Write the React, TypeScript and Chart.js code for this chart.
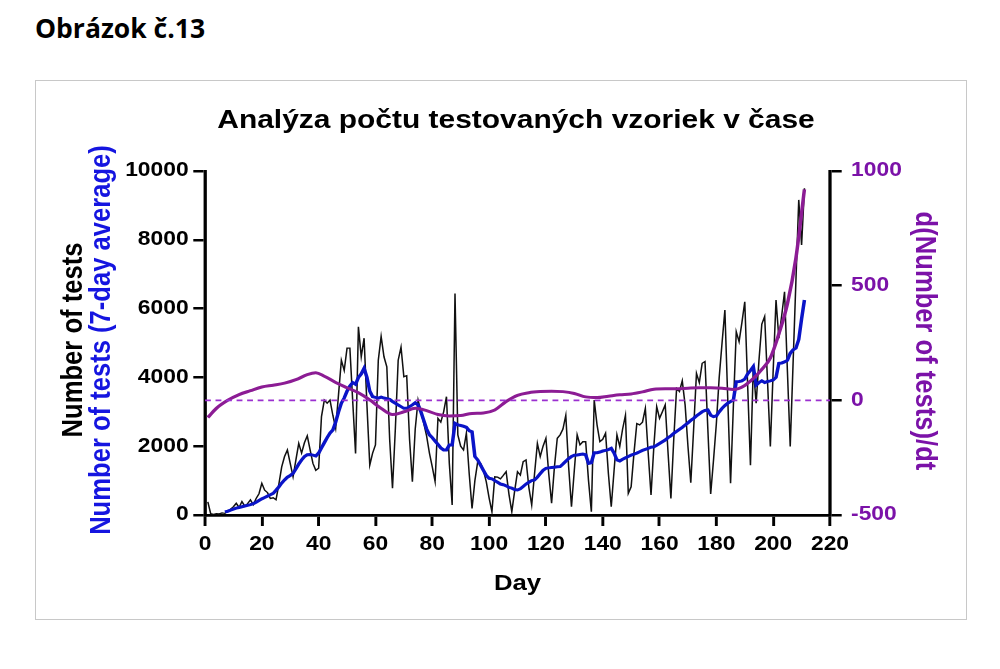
import React, { useEffect, useRef } from "react";
import { Chart, registerables } from "chart.js";
Chart.register(...registerables);

// Horizontal stretch of the original picture
const SX = 1.17;

// ---- data ----
const DAILY_FIRST_DAY = 1;
const dailyTests = [
  380, 40, 20, 40, 30, 60, 50, 100, 170, 240,
  340, 220, 390, 260, 330, 440, 300, 480, 620, 920,
  720, 650, 480, 500, 440, 900, 1400, 1700, 1890, 1500,
  1110, 1600, 2080, 1800, 2100, 2300, 1890, 1500, 1300, 1360,
  2860, 3340, 3250, 3340, 2900, 2520, 3500, 4500, 4200, 4850,
  4850, 3300, 1790, 5470, 4600, 5140, 3200, 1450, 1800, 2040,
  4500, 5190, 4600, 4310, 2200, 780, 2500, 4500, 4880, 4020,
  4050, 2200, 970, 2500, 3340, 3000, 2670, 2300, 1800, 1400,
  970, 2810, 2700, 3000, 3440, 1500, 290, 6440, 2330, 2000,
  1890, 2380, 1200, 190, 1000, 1550, 1500, 1300, 970, 500,
  96, 1110, 1100, 1050, 1150, 1260, 600, 96, 700, 1260,
  1160, 1550, 1600, 800, 290, 1200, 2080, 1700, 2000, 2230,
  1200, 340, 1400, 2230, 2330, 2500, 2900, 1400, 240, 1300,
  2330, 2040, 2130, 2130, 1000, 96, 3340, 2620, 2130, 2200,
  2380, 1200, 240, 1300, 2330, 1990, 2500, 2900, 630, 820,
  1800, 2660, 2620, 2700, 3100, 1800, 580, 2000, 3150, 2810,
  3000, 3200, 1800, 480, 2200, 3680, 3590, 3900, 3200, 2000,
  940, 2500, 4120, 3850, 4410, 4460, 2500, 610, 1600, 2660,
  4000, 5000, 5960, 3400, 920, 3200, 5330, 5040, 5600, 6200,
  3800, 1450, 4310, 3250, 4500, 5550, 5770, 3900, 1990, 4200,
  6250, 5140, 5800, 6490, 4200, 1990, 4400, 6800, 9160, 7850,
  9500,
];

const AVG_FIRST_DAY = 7;
const avgTests = [
  90, 110, 140, 170, 200, 220, 240, 260, 280, 300,
  330, 370, 420, 470, 510, 550, 590, 630, 720, 820,
  930, 1020, 1100, 1150, 1210, 1340, 1480, 1600, 1700, 1750,
  1760, 1740, 1715, 1800, 1950, 2100, 2250, 2380, 2470, 2700,
  3000, 3250, 3400, 3600, 3750, 3850, 3800, 4000, 4100, 4265,
  4000, 3600, 3440, 3420, 3400, 3430, 3400, 3380, 3360, 3300,
  3250, 3200, 3150, 3100, 3100, 3150, 3200, 3265, 3200, 3000,
  2750, 2500, 2330, 2250, 2150, 2050, 1950, 1890, 1890, 2035,
  2035, 2666, 2620, 2600, 2580, 2550, 2450, 2420, 1700, 1600,
  1450, 1300, 1150, 1066, 1050, 1000, 950, 900, 880, 850,
  800, 780, 740, 727, 760, 830, 900, 950, 1000, 1017,
  1100, 1200, 1300, 1357, 1370, 1380, 1390, 1400, 1405, 1480,
  1560, 1640, 1700, 1740, 1744, 1760, 1770, 1750, 1500, 1520,
  1810, 1812, 1830, 1860, 1880, 1900, 1937, 1800, 1600, 1570,
  1620, 1660, 1700, 1740, 1770, 1800, 1840, 1880, 1910, 1940,
  1970, 1985, 2030, 2080, 2130, 2180, 2250, 2300, 2370, 2430,
  2490, 2550, 2616, 2680, 2750, 2810, 2880, 2940, 3000, 3040,
  3052, 2900, 2860, 2880, 3000, 3100, 3180, 3250, 3300, 3343,
  3875, 3880, 3900, 3950, 4100, 4200, 4312, 3780, 3850, 3900,
  3850, 3880, 3900, 3924, 4000, 4410, 4420, 4450, 4500, 4700,
  4800, 4850, 5100, 5700, 6250,
];

const derivDays = [
  1, 4, 8, 12, 16, 20, 24, 28, 32, 36, 39, 42, 46, 50, 54, 58, 62, 66, 70, 74,
  78, 82, 86, 90, 94, 98, 102, 106, 110, 114, 118, 122, 126, 130, 134, 138, 142,
  146, 150, 154, 158, 162, 166, 170, 174, 178, 182, 186, 190, 193, 196, 199, 202,
  205, 208, 211,
];
const derivValues = [
  -75, -35, 0, 25, 42, 58, 66, 75, 90, 112, 120, 105, 78, 55, 33, 2, -35, -62, -50, -35,
  -45, -62, -68, -66, -57, -55, -42, -5, 22, 33, 38, 40, 38, 30, 15, 12, 18,
  24, 28, 37, 48, 50, 50, 53, 55, 55, 53, 47, 65, 95, 135, 185, 290,
  420, 620, 920,
];

const zeroLineDays = [0, 220];
const zeroLineValues = [0, 0];

const X_MIN = 0, X_MAX = 220, X_STEP = 20;
const Y_MIN = 0, Y_MAX = 10000, Y_STEP = 2000;
const Y1_MIN = -500, Y1_MAX = 1000, Y1_STEP = 500;

const chartTitle = "Analýza počtu testovaných vzoriek v čase";
const yTitleBlack = "Number of tests";
const yTitleBlue = "Number of tests (7-day average)";
const y1Title = "d(Number of tests)/dt";
const xTitle = "Day";
const heading = "Obrázok č.13";

// ---- styles ----
const FONT = '"Liberation Sans", Arial, sans-serif';
const PURPLE_LINE = "#8C1C94";
const PURPLE_TEXT = "#7B12A8";
const PURPLE_DASH = "#9B30D0";
const BLUE = "#0A14C8";
const BLUE_TEXT = "#1515E0";

const W = 1000, H = 669;
const LOGICAL_W = W / SX;
const AREA_LEFT = 205 / SX;
const AREA_RIGHT = 830 / SX;
const AREA_TOP = 171;
const AREA_BOTTOM = 515;

const plainNumber = (v: any) => String(v);

const stretchPlugin = {
  id: "stretchAndTexts",
  beforeDraw(chart: any) {
    const c = chart.ctx;
    c.save();
    c.scale(SX, 1);
  },
  afterDraw(chart: any) {
    const c = chart.ctx;
    c.save();
    c.fillStyle = "#000";
    c.font = `bold 25.6px ${FONT}`;
    c.textAlign = "center";
    c.textBaseline = "alphabetic";
    c.fillText(chartTitle, 516 / SX, 127.5);
    c.font = `bold 22px ${FONT}`;
    c.fillText(xTitle, 517.5 / SX, 590);
    c.restore();

    c.save();
    c.font = `bold 25.6px ${FONT}`;
    c.textAlign = "center";
    c.textBaseline = "alphabetic";
    c.translate(81.5 / SX, 340);
    c.rotate(-Math.PI / 2);
    c.fillStyle = "#000";
    c.fillText(yTitleBlack, 0, 0);
    c.restore();

    c.save();
    c.font = `bold 25.6px ${FONT}`;
    c.textAlign = "center";
    c.textBaseline = "alphabetic";
    c.translate(110 / SX, 340);
    c.rotate(-Math.PI / 2);
    c.fillStyle = BLUE_TEXT;
    c.fillText(yTitleBlue, 0, 0);
    c.restore();

    c.save();
    c.font = `bold 25.6px ${FONT}`;
    c.textAlign = "center";
    c.textBaseline = "alphabetic";
    c.translate(916 / SX, 341);
    c.rotate(Math.PI / 2);
    c.fillStyle = PURPLE_TEXT;
    c.fillText(y1Title, 0, 0);
    c.restore();

    c.restore();
  },
};

function App() {
  const ref = useRef<HTMLCanvasElement>(null);

  useEffect(() => {
    if (!ref.current) return;
    const daily = dailyTests.map((v, i) => ({ x: DAILY_FIRST_DAY + i, y: v }));
    const avg = avgTests.map((v, i) => ({ x: AVG_FIRST_DAY + i, y: v }));
    const deriv = derivDays.map((d, i) => ({ x: d, y: derivValues[i] }));
    const zero = zeroLineDays.map((d, i) => ({ x: d, y: zeroLineValues[i] }));

    const tickFont = { family: FONT, size: 19.5, weight: "bold" as const };

    const chart = new Chart(ref.current, {
      type: "line",
      data: {
        datasets: [
          {
            data: zero,
            yAxisID: "y1",
            borderColor: PURPLE_DASH,
            borderWidth: 1.6,
            borderDash: [5, 4],
            pointRadius: 0,
            order: 0,
          },
          {
            data: deriv,
            yAxisID: "y1",
            borderColor: PURPLE_LINE,
            borderWidth: 3,
            pointRadius: 0,
            cubicInterpolationMode: "monotone",
            order: 1,
          },
          {
            data: avg,
            yAxisID: "y",
            borderColor: BLUE,
            borderWidth: 3,
            pointRadius: 0,
            tension: 0,
            order: 2,
          },
          {
            data: daily,
            yAxisID: "y",
            borderColor: "#111",
            borderWidth: 1.3,
            pointRadius: 0,
            tension: 0,
            order: 3,
          },
        ],
      },
      options: {
        animation: false,
        responsive: false,
        devicePixelRatio: 1,
        events: [],
        layout: {
          padding: { left: 0, top: AREA_TOP, right: W - LOGICAL_W, bottom: 0 },
        },
        plugins: {
          legend: { display: false },
          tooltip: { enabled: false },
          title: { display: false },
        },
        scales: {
          x: {
            type: "linear",
            position: "bottom",
            min: X_MIN,
            max: X_MAX,
            ticks: {
              stepSize: X_STEP,
              color: "#000",
              font: tickFont,
              padding: 7,
              maxRotation: 0,
              autoSkip: false,
              callback: plainNumber,
            },
            grid: {
              display: true,
              drawOnChartArea: false,
              drawTicks: true,
              tickLength: 11,
              color: "#000",
              lineWidth: 2.5,
            },
            border: { display: true, color: "#000", width: 2.8 },
            afterFit: (s: any) => {
              s.height = H - AREA_BOTTOM;
            },
          },
          y: {
            type: "linear",
            position: "left",
            min: Y_MIN,
            max: Y_MAX,
            ticks: {
              stepSize: Y_STEP,
              color: "#000",
              font: tickFont,
              padding: 4,
              callback: plainNumber,
            },
            grid: {
              display: true,
              drawOnChartArea: false,
              drawTicks: true,
              tickLength: 10,
              color: "#000",
              lineWidth: 2.5,
            },
            border: { display: true, color: "#000", width: 2.8 },
            afterFit: (s: any) => {
              s.width = AREA_LEFT;
            },
          },
          y1: {
            type: "linear",
            position: "right",
            min: Y1_MIN,
            max: Y1_MAX,
            ticks: {
              stepSize: Y1_STEP,
              color: PURPLE_TEXT,
              font: tickFont,
              padding: 8,
              callback: plainNumber,
            },
            grid: {
              display: true,
              drawOnChartArea: false,
              drawTicks: true,
              tickLength: 10,
              color: "#000",
              lineWidth: 2.5,
            },
            border: { display: true, color: "#000", width: 2.8 },
            afterFit: (s: any) => {
              s.width = LOGICAL_W - AREA_RIGHT;
            },
          },
        },
      },
      plugins: [stretchPlugin],
    } as any);
    return () => chart.destroy();
  }, []);

  return (
    <div style={{ position: "absolute", left: 0, top: 0, width: W, height: H, background: "#fff" }}>
      <div
        style={{
          position: "absolute",
          left: 35,
          top: 15,
          fontFamily: '"Open Sans", sans-serif',
          fontWeight: 700,
          fontSize: 26.5,
          lineHeight: "26.5px",
          color: "#000",
          whiteSpace: "nowrap",
        }}
      >
        {heading}
      </div>
      <div
        style={{
          position: "absolute",
          left: 35,
          top: 80,
          width: 930,
          height: 538,
          border: "1px solid #c8c8c8",
        }}
      />
      <canvas
        ref={ref}
        width={W}
        height={H}
        style={{ position: "absolute", left: 0, top: 0, width: W, height: H }}
      />
    </div>
  );
}

export default App;
